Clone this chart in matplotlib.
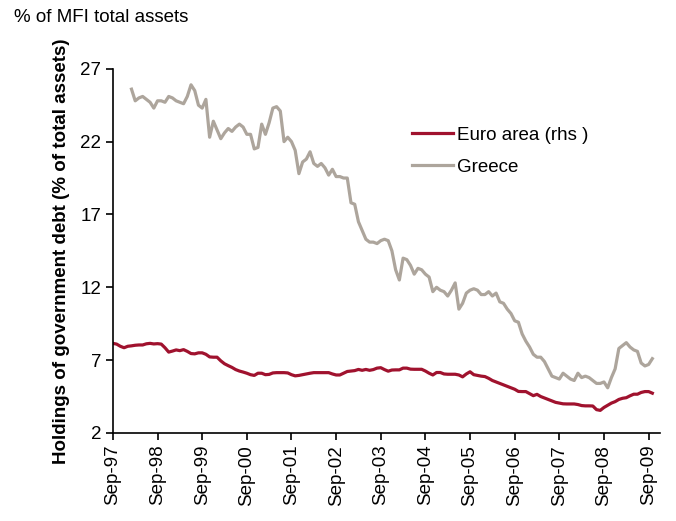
import matplotlib
matplotlib.use("Agg")
import matplotlib.pyplot as plt
import pandas as pd

plt.rcParams["font.family"] = ["Liberation Sans", "DejaVu Sans"]
plt.rcParams["font.size"] = 13.5

# Monthly observations, Sep-97 .. Oct-09 (euro area) and Feb-98 .. Oct-09 (Greece)
euro_area = [
    8.15, 8.10, 7.95, 7.85, 7.95, 7.98, 8.02, 8.04, 8.04, 8.12, 8.15, 8.11,
    8.13, 8.10, 7.85, 7.55, 7.62, 7.70, 7.65, 7.72, 7.60, 7.45, 7.43, 7.50,
    7.50, 7.40, 7.22, 7.20, 7.20, 6.95, 6.75, 6.62, 6.50, 6.35, 6.25, 6.18,
    6.10, 6.00, 5.95, 6.10, 6.10, 6.00, 6.02, 6.12, 6.14, 6.14, 6.14, 6.12,
    6.00, 5.92, 5.95, 6.00, 6.05, 6.10, 6.14, 6.14, 6.14, 6.14, 6.14, 6.05,
    5.98, 5.98, 6.10, 6.22, 6.25, 6.28, 6.36, 6.30, 6.36, 6.30, 6.35, 6.45,
    6.48, 6.35, 6.24, 6.32, 6.33, 6.33, 6.45, 6.45, 6.38, 6.37, 6.37, 6.37,
    6.25, 6.10, 5.98, 6.15, 6.15, 6.05, 6.03, 6.03, 6.03, 5.98, 5.85, 6.05,
    6.20, 6.00, 5.95, 5.90, 5.87, 5.75, 5.60, 5.50, 5.40, 5.30, 5.20, 5.10,
    5.00, 4.85, 4.84, 4.84, 4.70, 4.56, 4.65, 4.50, 4.40, 4.30, 4.20, 4.10,
    4.05, 4.00, 3.99, 3.99, 3.99, 3.95, 3.88, 3.86, 3.86, 3.85, 3.60, 3.55,
    3.75, 3.90, 4.05, 4.15, 4.30, 4.38, 4.42, 4.55, 4.66, 4.66, 4.78, 4.84,
    4.84, 4.73,
]
greece = [
    25.6, 24.8, 25.0, 25.1, 24.9, 24.7, 24.3,
    24.8, 24.8, 24.7, 25.1, 25.0, 24.8, 24.7, 24.6, 25.1, 25.9, 25.5, 24.5,
    24.3, 24.9, 22.3, 23.4, 22.8, 22.2, 22.6, 22.9, 22.7, 23.0, 23.2, 23.0,
    22.5, 22.5, 21.5, 21.6, 23.2, 22.5, 23.3, 24.3, 24.4, 24.1, 22.0, 22.3,
    22.0, 21.4, 19.8, 20.6, 20.8, 21.3, 20.5, 20.3, 20.5, 20.2, 19.7, 20.1,
    19.6, 19.6, 19.5, 19.5, 17.8, 17.7, 16.5, 15.9, 15.3, 15.1, 15.1, 15.0,
    15.2, 15.3, 15.2, 14.5, 13.2, 12.5, 14.0, 13.9, 13.5, 12.9, 13.3, 13.2,
    12.9, 12.7, 11.7, 12.0, 11.8, 11.7, 11.4, 11.8, 12.3, 10.5, 10.9, 11.6,
    11.8, 11.9, 11.8, 11.5, 11.5, 11.7, 11.4, 11.6, 11.0, 10.9, 10.5, 10.2,
    9.7, 9.6, 8.8, 8.3, 7.9, 7.4, 7.2, 7.2, 6.9, 6.4, 5.9, 5.8,
    5.7, 6.1, 5.9, 5.7, 5.6, 6.1, 5.8, 5.9, 5.8, 5.6, 5.4, 5.4,
    5.5, 5.1, 5.8, 6.4, 7.8, 8.0, 8.2, 7.9, 7.7, 7.6, 6.8, 6.6,
    6.7, 7.1,
]
greece_start = 5  # Feb-98, months after Sep-97

tick_years = list(range(1997, 2010))
tick_labels = [f"Sep-{y % 100:02d}" for y in tick_years]
y_ticks = [2, 7, 12, 17, 22, 27]

euro_x = list(range(len(euro_area)))
greece_x = list(range(greece_start, greece_start + len(greece)))

fig = plt.figure(figsize=(6.76, 5.21), dpi=100)
ax = fig.add_axes([0.167, 0.169, 0.809, 0.699])

ax.plot(euro_x, euro_area, color="#A0122E", lw=2.3, label="Euro area (rhs )")
ax.plot(greece_x, greece, color="#ADA59C", lw=2.3, label="Greece")

ax.set_xlim(0, 147)
ax.set_ylim(2, 27)
ax.set_yticks(y_ticks)
ax.set_xticks([12 * i for i in range(len(tick_labels))])
ax.set_xticklabels(tick_labels, rotation=90)

for side in ("top", "right"):
    ax.spines[side].set_visible(False)
for side in ("left", "bottom"):
    ax.spines[side].set_linewidth(1.2)
ax.tick_params(direction="out", length=5, width=1.2)

ax.set_ylabel("Holdings of government debt (% of total assets)", fontweight="bold", labelpad=7)
fig.text(0.021, 0.967, "% of MFI total assets", ha="left", va="center")

ax.legend(loc="upper left", bbox_to_anchor=(0.534, 0.862), frameon=False,
          handlelength=2.15, handletextpad=0.25, labelspacing=0.8, borderaxespad=0)

fig.savefig("out.png", dpi=100)
